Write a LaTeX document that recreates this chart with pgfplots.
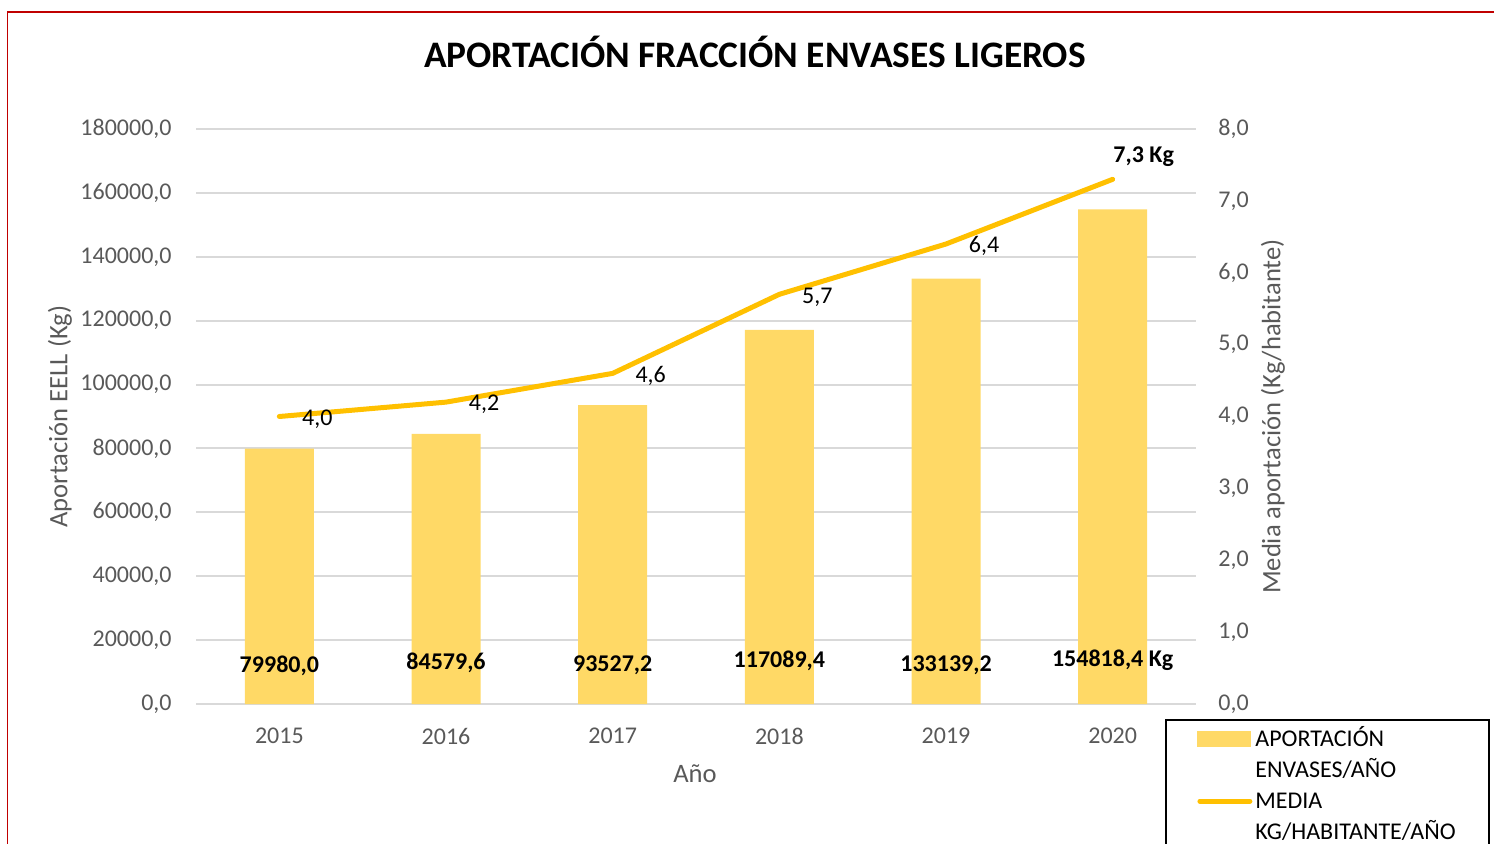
\documentclass[border=0pt]{standalone}
\usepackage{pgfplots}
\pgfplotsset{compat=1.18}
\usepackage{pgfplotstable}
\usepackage{fontspec}
\setmainfont{Carlito}
\definecolor{barcol}{HTML}{FFD966}
\definecolor{linecol}{HTML}{FFC000}
\definecolor{gridcol}{HTML}{D9D9D9}
\definecolor{tickcol}{HTML}{595959}
\definecolor{framecol}{HTML}{C00000}

\pgfplotstableread[col sep=semicolon]{
x;y
0;79980.0
1;84579.6
2;93527.2
3;117089.4
4;133139.2
5;154818.4
}\bardata
\pgfplotstableread[col sep=semicolon]{
x;y;lab
0;12209;79980,0
1;13148;84579,6
2;12522;93527,2
3;13774;117089,4
4;12522;133139,2
5;14087;154818,4 Kg
}\barlabels
\pgfplotstableread[col sep=semicolon]{
x;y
0;4.0
1;4.2
2;4.6
3;5.7
4;6.4
5;7.3
}\linedata
\pgfplotstableread[col sep=semicolon]{
x;y;lab
0;4.0;4,0
1;4.2;4,2
2;4.6;4,6
3;5.7;5,7
4;6.4;6,4
}\linelabA
\pgfplotstableread[col sep=semicolon]{
x;y;lab
5;7.3;7,3 Kg
}\linelabB

\pgfplotsset{
  common/.style={
    at={(98pt,69.5pt)}, anchor=south west, scale only axis,
    width=500pt, height=287.5pt,
    xmin=-0.5, xmax=5.5,
    major tick length=0pt,
    axis line style={draw=none},
    tick label style={font=\fontsize{12}{14}\selectfont, text=tickcol},
    label style={font=\fontsize{13.3}{16}\selectfont, text=tickcol},
    scaled y ticks=false,
    /pgf/number format/fixed,
    /pgf/number format/fixed zerofill,
    /pgf/number format/precision=1,
    /pgf/number format/use comma,
    /pgf/number format/1000 sep={},
    /pgf/number format/assume math mode=true,
  }
}

\begin{document}
\begin{tikzpicture}[x=1pt,y=1pt]
\useasboundingbox (0,0) rectangle (747,421.5);
\clip (0,0) rectangle (747,421.5);
\draw[framecol, line width=0.75pt] (3.85,-20) rectangle (800,415.5);
\node[font=\bfseries\fontsize{18.7}{22}\selectfont, anchor=base] at (377.5,388) {APORTACIÓN FRACCIÓN ENVASES LIGEROS};

\begin{axis}[common,
  ymin=0, ymax=180000,
  ytick={0,20000,...,180000},
  xtick={0,1,2,3,4,5},
  xticklabels={2015,2016,2017,2018,2019,2020},
  ymajorgrids, grid style={gridcol, line width=1pt},
  xticklabel style={anchor=center, inner sep=0pt, yshift=-16pt},
  yticklabel style={anchor=east, inner sep=0pt, xshift=-12pt},
  xlabel={Año},
  xlabel style={at={(axis description cs:0.499,-0.1217)}, anchor=center},
  ylabel={Aportación EELL (Kg)},
  ylabel style={at={(axis description cs:-0.136,0.5)}, anchor=center},
  clip=false,
]
\addplot[ybar, bar width=34.5pt, fill=barcol, draw=none] table[x=x,y=y]{\bardata};
\addplot[draw=none, nodes near coords, point meta=explicit symbolic,
  nodes near coords style={font=\bfseries\fontsize{12}{14}\selectfont, text=black, anchor=base, yshift=-3.85pt}]
  table[x=x,y=y,meta=lab]{\barlabels};
\end{axis}

\begin{axis}[common,
  ymin=0, ymax=8, ytick={0,1,...,8},
  axis x line=none, axis y line*=right,
  yticklabel style={anchor=west, inner sep=0pt, xshift=11pt},
  ylabel={Media aportación (Kg/habitante)},
  ylabel style={at={(axis description cs:1.077,0.5)}, anchor=center},
  clip=false,
  legend cell align=left,
  legend style={draw=none, fill=none, at={(axis description cs:1.001,-0.0377)}, anchor=north west,
    inner sep=0pt, outer sep=0pt, row sep=0pt, column sep=1.5pt,
    font=\fontsize{12}{14}\selectfont,
    nodes={inner xsep=0pt, inner ysep=2.5pt, text height=8pt, text depth=2.5pt}},
]
\addlegendimage{legend image code/.code={\fill[barcol] (0pt,-2.75pt) rectangle (26.5pt,4.75pt);}}
\addlegendentry{APORTACIÓN}
\addlegendimage{empty legend}
\addlegendentry{ENVASES/AÑO}
\addplot[linecol, line width=2.5pt, line cap=round, line join=round,
  legend image code/.code={\draw[linecol, line width=2.5pt, line cap=round] (1.25pt,1pt) -- (26.25pt,1pt);}]
  table[x=x,y=y]{\linedata};
\addlegendentry{MEDIA}
\addlegendimage{empty legend}
\addlegendentry{KG/HABITANTE/AÑO}
\addplot[draw=none, nodes near coords, point meta=explicit symbolic,
  nodes near coords style={font=\fontsize{12}{14}\selectfont, text=black, anchor=base, xshift=19pt, yshift=-4.35pt}]
  table[x=x,y=y,meta=lab]{\linelabA};
\addplot[draw=none, nodes near coords, point meta=explicit symbolic,
  nodes near coords style={font=\bfseries\fontsize{12}{14}\selectfont, text=black, anchor=base, xshift=15.5pt, yshift=8.65pt}]
  table[x=x,y=y,meta=lab]{\linelabB};
\end{axis}
\draw[black, line width=1pt] (583,61.5) rectangle (744.5,-20);
\end{tikzpicture}
\end{document}
